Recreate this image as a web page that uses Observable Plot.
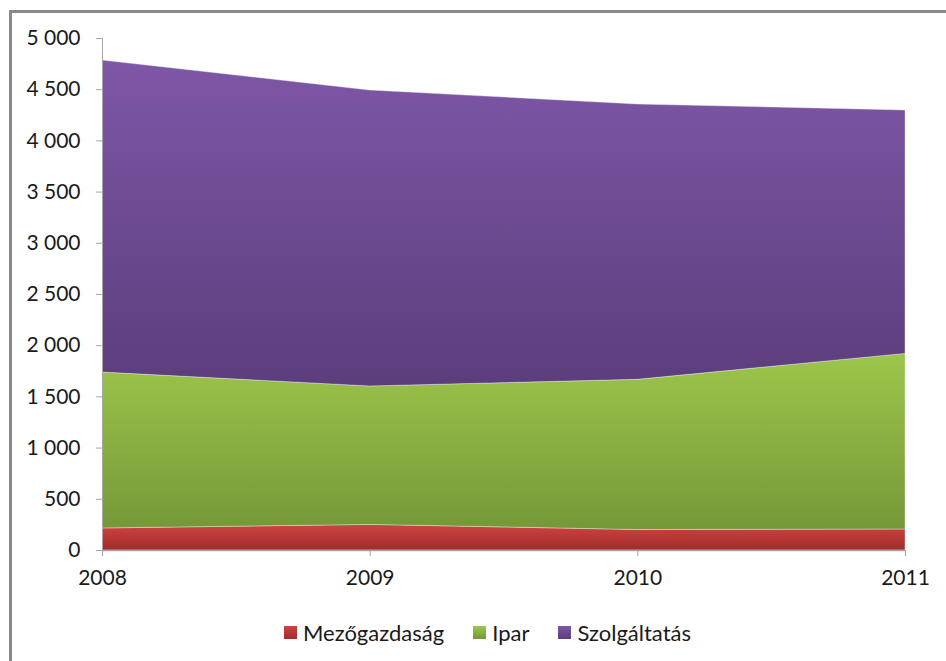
<!DOCTYPE html>
<html>
<head>
<meta charset="utf-8">
<script src="https://cdn.jsdelivr.net/npm/d3@7"></script>
<script src="https://cdn.jsdelivr.net/npm/@observablehq/plot@0.6"></script>
<style>
  html, body { margin: 0; padding: 0; background: #fff; }
  #wrap { position: relative; width: 946px; height: 661px; overflow: hidden; font-family: Lato, "Open Sans", sans-serif; }
  #frameTop { position: absolute; left: 9px; top: 10px; width: 940px; height: 3px; background: #8a8a8a; }
  #frameLeft { position: absolute; left: 9px; top: 10px; width: 3px; height: 660px; background: #8a8a8a; }
  #chart { position: absolute; left: 0; top: 0; }
  #legend { position: absolute; left: 0; top: 618px; width: 946px; height: 28px; display: flex; justify-content: center; align-items: center; font-size: 22px; color: #1a1a1a; padding-left: 58px; box-sizing: border-box; }
  .item { display: flex; align-items: center; margin-right: 29px; }
  .sw { width: 13px; height: 13px; margin-right: 6px; }
</style>
</head>
<body>
<div id="wrap">
  <div id="chart"></div>
  <div id="frameTop"></div>
  <div id="frameLeft"></div>
  <div id="legend"></div>
</div>
<script>
const years = [2008, 2009, 2010, 2011];
const seriesNames = ["Mezőgazdaság", "Ipar", "Szolgáltatás"];
const mezogazdasag = [215, 250, 200, 205];
const ipar = [1523, 1352, 1467, 1715];
const szolgaltatas = [3047, 2890, 2688, 2377];
const yTicks = [0, 500, 1000, 1500, 2000, 2500, 3000, 3500, 4000, 4500, 5000];
const gradIds = ["gMez", "gIpar", "gSzolg"];
const topColors = ["#cf4341", "#9dc64b", "#7e57a7"];
const bottomColors = ["#a02c2c", "#759838", "#5c3d7c"];

const valuesBySeries = [mezogazdasag, ipar, szolgaltatas];
const data = [];
seriesNames.forEach((s, i) => {
  years.forEach((y, j) => data.push({ year: y, series: s, value: valuesBySeries[i][j] }));
});

const yFmt = d => d === 0 ? "0" : d3.format(",")(d).replace(/,/g, " ");

const plot = Plot.plot({
  width: 946,
  height: 619,
  marginLeft: 102,
  marginRight: 41,
  marginTop: 38,
  marginBottom: 69,
  style: { fontFamily: "Lato, 'Open Sans', sans-serif", fontSize: "21px", color: "#1a1a1a", background: "transparent" },
  x: { domain: [2008, 2011], label: null },
  y: { domain: [0, 5000], label: null },
  color: { domain: seriesNames, range: gradIds.map(id => `url(#${id})`) },
  marks: [
    Plot.areaY(data, Plot.stackY({ x: "year", y: "value", z: "series", fill: "series", stroke: "#ffffff", strokeOpacity: 0.35, strokeWidth: 1 })),
    Plot.ruleX([2008], { stroke: "#a6a6a6", strokeWidth: 1 }),
    Plot.ruleY([0], { stroke: "#a6a6a6", strokeWidth: 1.5 }),
    Plot.axisY({ ticks: yTicks, tickFormat: yFmt, tickSize: 6, tickPadding: 16, stroke: "#a6a6a6", label: null }),
    Plot.axisX({ ticks: years, tickFormat: d => String(d), tickSize: 6, tickPadding: 14, stroke: "#a6a6a6", label: null })
  ]
});

const svg = d3.select(plot);
const defs = svg.insert("defs", ":first-child");
gradIds.forEach((id, i) => {
  const g = defs.append("linearGradient").attr("id", id).attr("x1", 0).attr("y1", 0).attr("x2", 0).attr("y2", 1);
  g.append("stop").attr("offset", "0%").attr("stop-color", topColors[i]);
  g.append("stop").attr("offset", "100%").attr("stop-color", bottomColors[i]);
});

document.getElementById("chart").appendChild(plot);

const legend = document.getElementById("legend");
seriesNames.forEach((s, i) => {
  const it = document.createElement("div");
  it.className = "item";
  const sw = document.createElement("div");
  sw.className = "sw";
  sw.style.background = `linear-gradient(${topColors[i]}, ${bottomColors[i]})`;
  const t = document.createElement("span");
  t.textContent = s;
  it.appendChild(sw);
  it.appendChild(t);
  legend.appendChild(it);
});
</script>
</body>
</html>
